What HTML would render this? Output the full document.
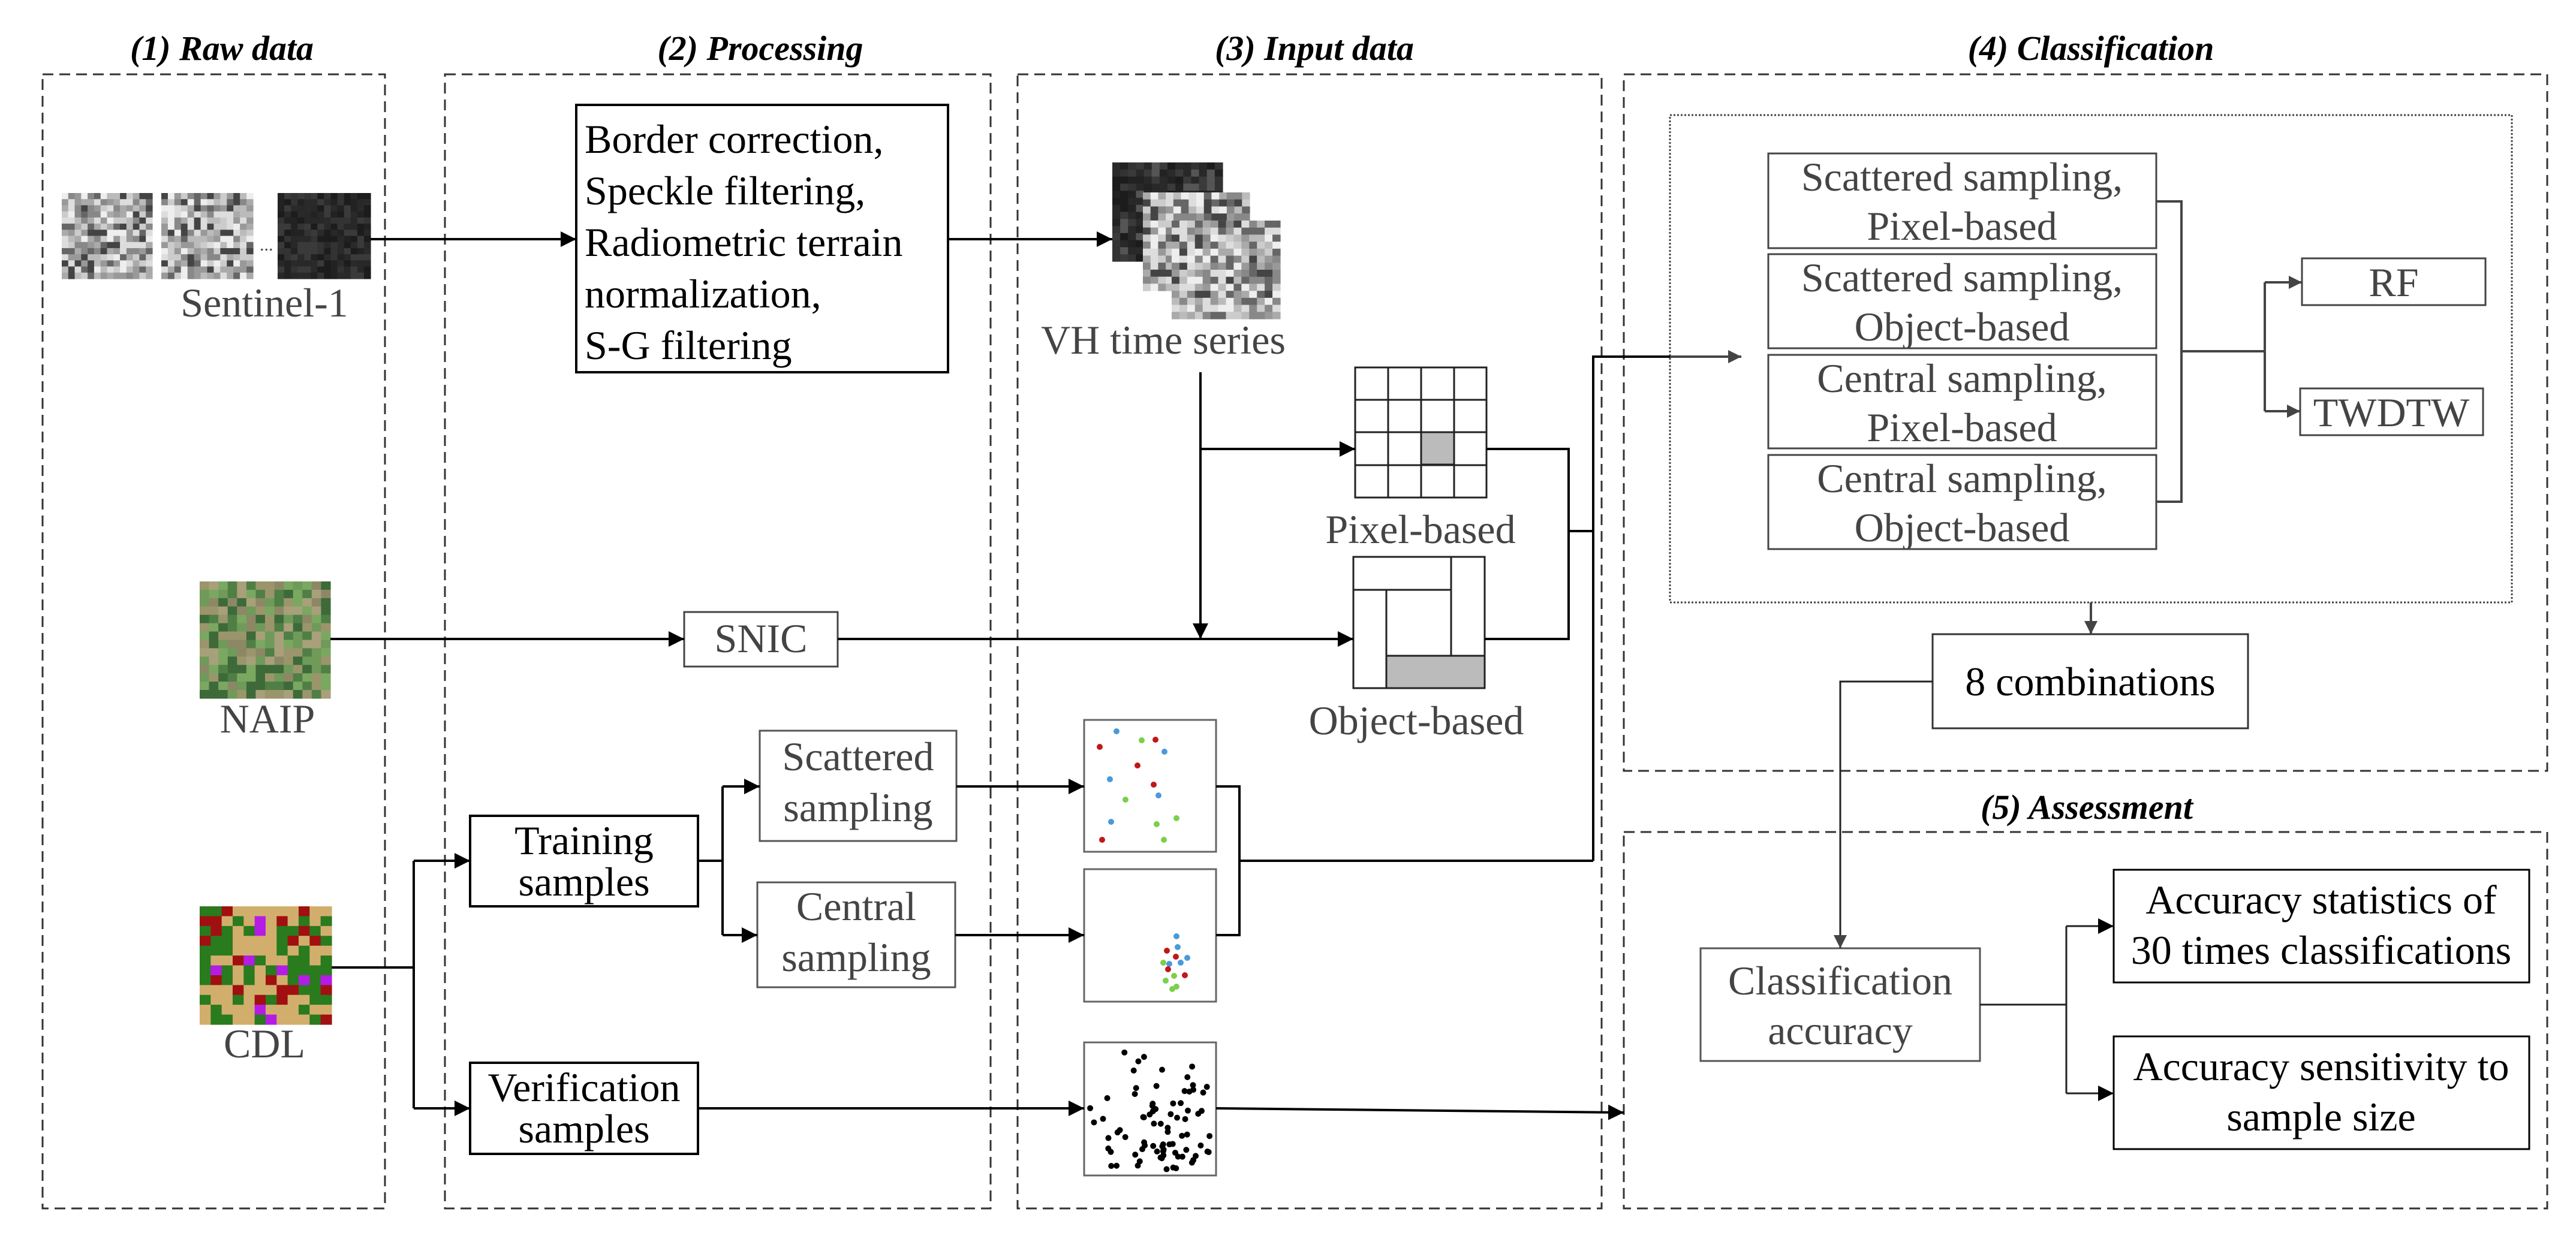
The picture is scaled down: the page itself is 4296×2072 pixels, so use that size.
<!DOCTYPE html>
<html><head><meta charset="utf-8"><style>
html,body{margin:0;padding:0;background:#fff;}
svg{display:block;font-family:"Liberation Serif","Tinos","Times New Roman","Times","Nimbus Roman","DejaVu Serif",serif;}
svg text{font-family:"Liberation Serif","Tinos","Times New Roman","Times","Nimbus Roman","DejaVu Serif",serif;}
.t{font-size:68px;fill:#000;}
.g{font-size:68px;fill:#444;}
.h{font-size:58px;font-weight:bold;font-style:italic;fill:#000;}
</style></head><body>
<svg id="s" width="4296" height="2072" viewBox="0 0 4296 2072" xmlns="http://www.w3.org/2000/svg">
<defs>
<marker id="b" markerWidth="26" markerHeight="26" refX="26" refY="13" markerUnits="userSpaceOnUse" orient="auto"><path d="M0,0L26,13L0,26z" fill="#000"/></marker>
<marker id="c" markerWidth="22" markerHeight="22" refX="22" refY="11" markerUnits="userSpaceOnUse" orient="auto"><path d="M0,0L22,11L0,22z" fill="#444"/></marker>
</defs>

<g fill="none" stroke="#333" stroke-width="3" stroke-dasharray="18,10">
<rect x="71" y="124" width="571" height="1892"/>
<rect x="742" y="124" width="910" height="1892"/>
<rect x="1697" y="124" width="974" height="1892"/>
<rect x="2708" y="124" width="1540" height="1162"/>
<rect x="2708" y="1388" width="1540" height="628"/>
</g>
<rect x="2785" y="192" width="1404" height="813" fill="none" stroke="#444" stroke-width="3" stroke-dasharray="3,3"/>

<text class="h" x="370" y="100" text-anchor="middle">(1) Raw data</text>
<text class="h" x="1268" y="100" text-anchor="middle">(2) Processing</text>
<text class="h" x="2192" y="100" text-anchor="middle">(3) Input data</text>
<text class="h" x="3487" y="100" text-anchor="middle">(4) Classification</text>
<text class="h" x="3480" y="1366" text-anchor="middle">(5) Assessment</text>

<g id="imgs"></g>

<text x="433" y="418" font-size="30" fill="#444">...</text>
<text class="g" x="441" y="528" text-anchor="middle">Sentinel-1</text>
<text class="g" x="446" y="1222" text-anchor="middle">NAIP</text>
<text class="g" x="441" y="1764" text-anchor="middle">CDL</text>
<text class="g" x="1940" y="590" text-anchor="middle">VH time series</text>

<rect x="961" y="175" width="620" height="446" fill="#fff" stroke="#000" stroke-width="4"/>
<g class="t"><text x="975" y="255">Border correction,</text><text x="975" y="341">Speckle filtering,</text><text x="975" y="427">Radiometric terrain</text><text x="975" y="513">normalization,</text><text x="975" y="599">S-G filtering</text></g>

<rect x="1141" y="1021" width="256" height="91" fill="#fff" stroke="#444" stroke-width="3"/>
<text class="g" x="1269" y="1088" text-anchor="middle">SNIC</text>

<rect x="784" y="1361" width="380" height="151" fill="#fff" stroke="#000" stroke-width="4"/>
<text class="t" x="974" y="1425" text-anchor="middle">Training</text><text class="t" x="974" y="1494" text-anchor="middle">samples</text>
<rect x="784" y="1773" width="380" height="152" fill="#fff" stroke="#000" stroke-width="4"/>
<text class="t" x="974" y="1837" text-anchor="middle">Verification</text><text class="t" x="974" y="1906" text-anchor="middle">samples</text>
<rect x="1267" y="1219" width="328" height="184" fill="#fff" stroke="#555" stroke-width="3"/>
<text class="g" x="1431" y="1285" text-anchor="middle">Scattered</text><text class="g" x="1431" y="1370" text-anchor="middle">sampling</text>
<rect x="1263" y="1472" width="330" height="175" fill="#fff" stroke="#555" stroke-width="3"/>
<text class="g" x="1428" y="1535" text-anchor="middle">Central</text><text class="g" x="1428" y="1620" text-anchor="middle">sampling</text>

<g fill="#fff" stroke="#666" stroke-width="3">
<rect x="1808" y="1201" width="220" height="220"/>
<rect x="1808" y="1450" width="220" height="221"/>
<rect x="1808" y="1739" width="220" height="222"/>
</g>
<g id="dots"></g>

<g stroke="#222" stroke-width="3" fill="#fff">
<rect x="2260" y="613" width="219" height="217"/>
<rect x="2370" y="721" width="55" height="54" fill="#bbb"/>
<line x1="2315" y1="613" x2="2315" y2="830"/><line x1="2370" y1="613" x2="2370" y2="830"/><line x1="2425" y1="613" x2="2425" y2="830"/>
<line x1="2260" y1="667" x2="2479" y2="667"/><line x1="2260" y1="721" x2="2479" y2="721"/><line x1="2260" y1="776" x2="2479" y2="776"/>
</g>
<g stroke="#222" stroke-width="3" fill="#fff">
<rect x="2257" y="929" width="219" height="219"/>
<rect x="2312" y="1094" width="164" height="54" fill="#bbb"/>
<line x1="2257" y1="984" x2="2420" y2="984"/><line x1="2420" y1="929" x2="2420" y2="1094"/><line x1="2312" y1="984" x2="2312" y2="1148"/>
</g>

<g fill="#fff" stroke="#444" stroke-width="3">
<rect x="2949" y="256" width="647" height="158"/>
<rect x="2949" y="424" width="647" height="157"/>
<rect x="2949" y="592" width="647" height="156"/>
<rect x="2949" y="759" width="647" height="157"/>
<rect x="3839" y="431" width="306" height="78"/>
<rect x="3836" y="648" width="305" height="78"/>
<rect x="3223" y="1058" width="526" height="157" stroke="#333"/>
<rect x="2836" y="1582" width="466" height="188" stroke="#555"/>
<rect x="3525" y="1451" width="693" height="188" stroke="#000"/>
<rect x="3525" y="1729" width="693" height="188" stroke="#000"/>
</g>
<text class="g" x="2369" y="906" text-anchor="middle">Pixel-based</text>
<text class="g" x="2362" y="1225" text-anchor="middle">Object-based</text>
<g class="g" text-anchor="middle" fill="#333">
<text x="3272" y="318">Scattered sampling,</text><text x="3272" y="400">Pixel-based</text>
<text x="3272" y="486">Scattered sampling,</text><text x="3272" y="568">Object-based</text>
<text x="3272" y="654">Central sampling,</text><text x="3272" y="736">Pixel-based</text>
<text x="3272" y="821">Central sampling,</text><text x="3272" y="903">Object-based</text>
<text x="3992" y="494">RF</text><text x="3988" y="711">TWDTW</text>
</g>
<text class="t" x="3486" y="1160" text-anchor="middle">8 combinations</text>
<text class="g" x="3069" y="1659" text-anchor="middle" fill="#666">Classification</text>
<text class="g" x="3069" y="1742" text-anchor="middle" fill="#666">accuracy</text>
<text class="t" x="3871" y="1524" text-anchor="middle">Accuracy statistics of</text>
<text class="t" x="3871" y="1608" text-anchor="middle">30 times classifications</text>
<text class="t" x="3871" y="1802" text-anchor="middle">Accuracy sensitivity to</text>
<text class="t" x="3871" y="1886" text-anchor="middle">sample size</text>

<g fill="none" stroke="#000" stroke-width="4">
<path d="M618,399H961" marker-end="url(#b)"/>
<path d="M1581,399H1855" marker-end="url(#b)"/>
<path d="M2002,621V1066" marker-end="url(#b)"/>
<path d="M2002,749H2260" marker-end="url(#b)"/>
<path d="M551,1066H1141" marker-end="url(#b)"/>
<path d="M1397,1066H2257" marker-end="url(#b)"/>
<path d="M2479,749H2616V1066H2476"/>
<path d="M2616,886H2657"/>
<path d="M2657,1436V595H2785"/>
<path d="M553,1614H690"/>
<path d="M690,1436V1849"/>
<path d="M690,1436H784" marker-end="url(#b)"/>
<path d="M690,1849H784" marker-end="url(#b)"/>
<path d="M1164,1436H1205"/>
<path d="M1205,1312V1560"/>
<path d="M1205,1312H1267" marker-end="url(#b)"/>
<path d="M1205,1560H1263" marker-end="url(#b)"/>
<path d="M1595,1312H1808" marker-end="url(#b)"/>
<path d="M1593,1560H1808" marker-end="url(#b)"/>
<path d="M1164,1849H1808" marker-end="url(#b)"/>
<path d="M2028,1312H2067V1560H2028"/>
<path d="M2067,1436H2657"/>
<path d="M2028,1849L2708,1856" marker-end="url(#b)"/>
</g>
<g fill="none" stroke="#444" stroke-width="4">
<path d="M2785,595H2904" marker-end="url(#c)"/>
<path d="M3596,336H3638V837H3596"/>
<path d="M3638,586H3777"/>
<path d="M3777,471V686"/>
<path d="M3777,471H3839" marker-end="url(#c)"/>
<path d="M3777,686H3836" marker-end="url(#c)"/>
<path d="M3487,1005V1058" marker-end="url(#c)"/>
</g>
<g fill="none" stroke="#222" stroke-width="3">
<path d="M3223,1137H3069V1582" marker-end="url(#c)"/>
<path d="M3302,1676H3446"/>
<path d="M3446,1545V1824"/>
<path d="M3446,1545H3525" marker-end="url(#b)"/>
<path d="M3446,1824H3525" marker-end="url(#b)"/>
</g>
</svg>
<script>
(function(){
var NS="http://www.w3.org/2000/svg";
var g=document.getElementById("imgs"),d=document.getElementById("dots");
var seed=7;function r(){seed=(seed*16807)%2147483647;return (seed-1)/2147483646;}
function rect(p,x,y,w,h,f){var e=document.createElementNS(NS,"rect");e.setAttribute("x",x);e.setAttribute("y",y);e.setAttribute("width",w);e.setAttribute("height",h);e.setAttribute("fill",f);p.appendChild(e);}
function mos(x,y,w,h,n,m,pal){var cw=w/n,ch=h/m;for(var i=0;i<n;i++)for(var j=0;j<m;j++){rect(g,x+i*cw,y+j*ch,cw+0.6,ch+0.6,pal[Math.floor(r()*pal.length)]);}}
var grays=["#eee","#ccc","#aaa","#888","#666","#444","#ddd","#bbb","#999"];
var dark=["#222","#2a2a2a","#333","#1c1c1c","#3a3a3a","#282828"];
mos(103,322,151,143,14,14,grays);mos(269,322,153,143,14,14,grays);mos(463,322,155,143,14,14,dark);
mos(1855,271,184,165,14,14,dark.concat(["#555"]));mos(1906,321,178,164,14,14,grays);mos(1954,368,181,164,14,14,grays);
mos(333,970,218,195,14,14,["#4f7f45","#6f9a5a","#a8a07a","#8c8866","#3d6a38","#7aa860","#9b956c"]);
mos(333,1512,220,197,12,12,["#d2ae6c","#d2ae6c","#2a7a1e","#2a7a1e","#b41ce6","#d2ae6c","#a01010","#2a7a1e"]);
function dot(x,y,c,rad){var e=document.createElementNS(NS,"circle");e.setAttribute("cx",x);e.setAttribute("cy",y);e.setAttribute("r",rad);e.setAttribute("fill",c);d.appendChild(e);}
var R="#c01818",B="#4a9ad8",G="#7ccf4a";
[[1862,1220,B],[1834,1246,R],[1904,1235,G],[1927,1234,R],[1942,1254,B],[1897,1277,R],[1851,1300,B],[1924,1309,R],[1932,1327,B],[1877,1334,G],[1962,1365,G],[1853,1371,B],[1929,1375,G],[1838,1401,R],[1941,1401,G]].forEach(function(p){dot(p[0],p[1],p[2],5);});
[[1962,1562,B],[1964,1580,B],[1946,1586,R],[1961,1596,R],[1980,1598,B],[1940,1606,G],[1950,1608,B],[1969,1606,B],[1948,1617,R],[1958,1628,G],[1976,1627,R],[1944,1636,G],[1962,1646,G],[1955,1650,G]].forEach(function(p){dot(p[0],p[1],p[2],5);});
for(var k=0;k<80;k++){var x=1818+r()*200,y=1748+r()*205;if(k%3==0){x=1900+r()*80;y=1840+r()*110;}dot(x,y,"#000",5);}
})();
</script>
</body></html>
